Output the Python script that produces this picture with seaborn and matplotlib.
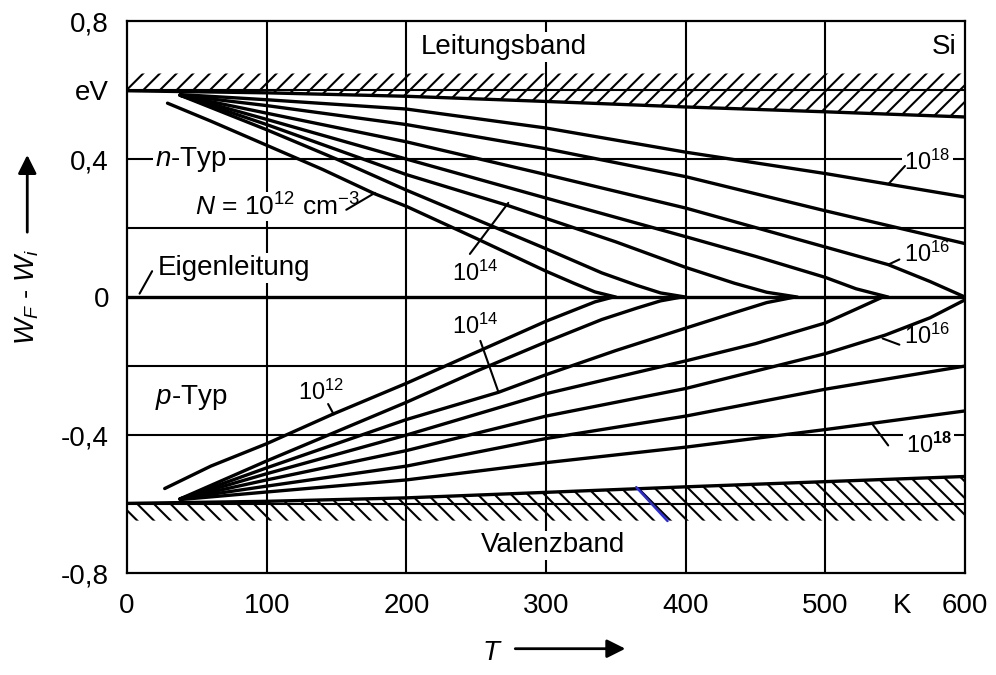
import numpy as np
import pandas as pd
import matplotlib
matplotlib.use("Agg")
import matplotlib.pyplot as plt
import matplotlib.transforms as mtransforms
import seaborn as sns

# ---------------- data ----------------
T_band = [0, 100, 200, 300, 400, 500, 600]
W_cond = [0.598, 0.592, 0.582, 0.567, 0.551, 0.537, 0.522]
W_val = [-0.598, -0.592, -0.582, -0.566, -0.550, -0.535, -0.520]

# n-type curves, N = 1e12 ... 1e18 cm^-3
T_n12 = [29, 60, 100, 140, 177, 200, 250, 300, 320, 335, 350]
W_n12 = [0.562, 0.51, 0.44, 0.37, 0.30, 0.263, 0.17, 0.075, 0.04, 0.015, 0.0]
T_n13 = [38, 100, 150, 200, 250, 300, 340, 365, 382, 400]
W_n13 = [0.585, 0.485, 0.40, 0.31, 0.225, 0.14, 0.07, 0.034, 0.012, 0.0]
T_n14 = [38, 100, 200, 273, 300, 350, 400, 435, 458, 480]
W_n14 = [0.585, 0.50, 0.355, 0.265, 0.228, 0.16, 0.086, 0.04, 0.014, 0.0]
T_n15 = [38, 100, 200, 300, 400, 450, 500, 522, 545]
W_n15 = [0.585, 0.515, 0.40, 0.287, 0.175, 0.118, 0.057, 0.024, 0.0]
T_n16 = [38, 100, 200, 300, 400, 500, 545, 575, 600]
W_n16 = [0.585, 0.533, 0.45, 0.355, 0.258, 0.145, 0.094, 0.045, 0.0]
T_n17 = [38, 100, 200, 300, 400, 500, 600]
W_n17 = [0.585, 0.555, 0.50, 0.43, 0.349, 0.25, 0.155]
T_n18 = [38, 100, 200, 300, 400, 500, 600]
W_n18 = [0.587, 0.572, 0.545, 0.49, 0.42, 0.358, 0.29]

# p-type curves
T_p12 = [27, 60, 100, 147, 200, 250, 300, 320, 335, 348]
W_p12 = [-0.555, -0.49, -0.425, -0.34, -0.25, -0.16, -0.07, -0.038, -0.014, 0.0]
T_p13 = [38, 100, 150, 200, 250, 300, 340, 365, 382, 397]
W_p13 = [-0.585, -0.475, -0.39, -0.305, -0.215, -0.13, -0.065, -0.032, -0.011, 0.0]
T_p14 = [38, 100, 200, 266, 300, 350, 400, 435, 458, 478]
W_p14 = [-0.585, -0.495, -0.355, -0.276, -0.225, -0.155, -0.09, -0.045, -0.016, 0.0]
T_p15 = [38, 100, 200, 300, 400, 450, 500, 522, 541]
W_p15 = [-0.585, -0.512, -0.40, -0.28, -0.185, -0.135, -0.075, -0.035, 0.0]
T_p16 = [38, 100, 200, 300, 400, 500, 543, 575, 600]
W_p16 = [-0.585, -0.53, -0.445, -0.345, -0.265, -0.164, -0.11, -0.06, -0.008]
T_p17 = [38, 100, 200, 300, 400, 500, 600]
W_p17 = [-0.585, -0.548, -0.49, -0.41, -0.345, -0.267, -0.20]
T_p18 = [38, 100, 200, 300, 400, 500, 600]
W_p18 = [-0.587, -0.565, -0.53, -0.48, -0.435, -0.384, -0.33]

T_intr = [0, 600]
W_intr = [0.0, 0.0]

x_ticks = [0, 100, 200, 300, 400, 500, 555, 600]
x_ticklabels = ["0", "100", "200", "300", "400", "500", "K", "600"]
y_ticks = [0.8, 0.6, 0.4, 0.0, -0.4, -0.8]
y_ticklabels = ["0,8", "eV", "0,4", "0", "-0,4", "-0,8"]

# ---------------- style ----------------
sns.set_theme(style="white")
plt.rcParams["font.family"] = ["Liberation Sans", "DejaVu Sans"]
plt.rcParams["mathtext.fontset"] = "custom"
plt.rcParams["mathtext.rm"] = "Liberation Sans"
plt.rcParams["mathtext.it"] = "Liberation Sans:italic"
plt.rcParams["mathtext.bf"] = "Liberation Sans:bold"
plt.rcParams["hatch.linewidth"] = 1.5
plt.rcParams["text.color"] = "black"
plt.rcParams["axes.labelcolor"] = "black"
plt.rcParams["xtick.color"] = "black"
plt.rcParams["ytick.color"] = "black"

fig = plt.figure(figsize=(9.96, 6.75), dpi=100)
ax = fig.add_axes([0.1275, 0.151, 0.8414, 0.8178])
ax.set_xlim(0, 600)
ax.set_ylim(-0.8, 0.8)

# grid
for yv in [0.6, 0.4, 0.2, -0.2, -0.4, -0.6]:
    ax.axhline(yv, color="black", lw=1.5, zorder=1)
for xv in [100, 200, 300, 400, 500]:
    ax.axvline(xv, color="black", lw=1.5, zorder=1)

# hatched bands
ax.fill_between(T_band, W_cond, 0.648, facecolor="none", edgecolor="black",
                hatch="//", linewidth=0, zorder=1.2)
ax.fill_between(T_band, W_val, -0.648, facecolor="none", edgecolor="black",
                hatch="\\\\", linewidth=0, zorder=1.2)

# curves via seaborn
curves = {
    "n12": (T_n12, W_n12), "n13": (T_n13, W_n13), "n14": (T_n14, W_n14),
    "n15": (T_n15, W_n15), "n16": (T_n16, W_n16), "n17": (T_n17, W_n17),
    "n18": (T_n18, W_n18),
    "p12": (T_p12, W_p12), "p13": (T_p13, W_p13), "p14": (T_p14, W_p14),
    "p15": (T_p15, W_p15), "p16": (T_p16, W_p16), "p17": (T_p17, W_p17),
    "p18": (T_p18, W_p18),
    "cond": (T_band, W_cond), "val": (T_band, W_val),
    "intr": (T_intr, W_intr),
}
rows = []
for name, (ts, ws) in curves.items():
    for i, (t, w) in enumerate(zip(ts, ws)):
        rows.append({"curve": name, "T": t, "W": w, "order": i})
df = pd.DataFrame(rows)
sns.lineplot(data=df, x="T", y="W", units="curve", estimator=None, sort=False,
             color="black", lw=2.4, ax=ax, zorder=3, legend=False)

# leader lines
leaders = [
    ((9, 18), (0.01, 0.075)),
    ((157, 177.5), (0.253, 0.302)),
    ((245.5, 273), (0.125, 0.273)),
    ((545, 557), (0.327, 0.38)),
    ((545, 553), (0.094, 0.109)),
    ((541, 553), (-0.12, -0.138)),
    ((534, 545), (-0.37, -0.43)),
    ((253, 266), (-0.127, -0.276)),
    ((144, 148), (-0.31, -0.34)),
]
for xs, ys in leaders:
    ax.plot(xs, ys, color="black", lw=1.5, zorder=3)

# small blue stroke in the lower hatch
ax.plot([364.6, 387], [-0.551, -0.649], color="#2b2bd6", lw=1.8, zorder=3)

wb = dict(facecolor="white", edgecolor="none", pad=1.5)
fs = 20
ax.text(270, 0.724, "Leitungsband", fontsize=fs, ha="center", va="center", bbox=wb, zorder=2)
ax.text(585, 0.724, "Si", fontsize=fs, ha="center", va="center", zorder=2)
ax.text(305, -0.72, "Valenzband", fontsize=fs, ha="center", va="center", bbox=wb, zorder=2)
ax.text(20, 0.40, r"$n$-Typ", fontsize=fs, ha="left", va="center", bbox=wb, zorder=2)
ax.text(49, 0.262, r"$N$ = 10$^{12}$ cm$^{-3}$", fontsize=19, ha="left", va="center",
        bbox=dict(facecolor="white", edgecolor="none", pad=0.5), zorder=2)
ax.text(22, 0.084, "Eigenleitung", fontsize=fs, ha="left", va="center", bbox=wb, zorder=2)
ax.text(20, -0.29, r"$p$-Typ", fontsize=fs, ha="left", va="center", zorder=2)

fs2 = 17
ax.text(249, 0.07, r"10$^{14}$", fontsize=fs2, ha="center", va="center", zorder=2)
ax.text(573, 0.39, r"10$^{18}$", fontsize=fs2, ha="center", va="center", bbox=wb, zorder=2)
ax.text(573, 0.123, r"10$^{16}$", fontsize=fs2, ha="center", va="center", zorder=2)
ax.text(249, -0.085, r"10$^{14}$", fontsize=fs2, ha="center", va="center", zorder=2)
ax.text(139, -0.275, r"10$^{12}$", fontsize=fs2, ha="center", va="center", zorder=2)
ax.text(573, -0.113, r"10$^{16}$", fontsize=fs2, ha="center", va="center", zorder=2)
ax.text(574, -0.43, r"10$^{\mathbf{18}}$", fontsize=fs2, ha="center", va="center", bbox=wb, zorder=2)

# ticks
ax.set_xticks(x_ticks)
ax.set_xticklabels(x_ticklabels)
ax.set_yticks(y_ticks)
ax.set_yticklabels(y_ticklabels)
ax.tick_params(axis="both", length=0, labelsize=fs, colors="black")
ax.tick_params(axis="y", pad=13)
ax.tick_params(axis="x", pad=14)
ax.set_xlabel("")
ax.set_ylabel("")
for sp in ax.spines.values():
    sp.set_color("black")
    sp.set_linewidth(1.6)
    sp.set_visible(True)

# axis labels with arrows
trans_y = mtransforms.blended_transform_factory(ax.transAxes, ax.transData)
ax.text(-0.119, 0.0, r"$W_F$ - $W_i$", fontsize=fs, rotation=90, ha="center",
        va="center", transform=trans_y, clip_on=False)
ax.annotate("", xy=(-0.119, 0.42), xytext=(-0.119, 0.18),
            xycoords=trans_y, textcoords=trans_y,
            arrowprops=dict(arrowstyle="-|>", color="black", lw=2, mutation_scale=28))
ax.text(0.436, -0.145, r"$T$", fontsize=fs, ha="center", va="center",
        transform=ax.transAxes, clip_on=False)
ax.annotate("", xy=(0.598, -0.137), xytext=(0.46, -0.137),
            xycoords="axes fraction", textcoords="axes fraction",
            arrowprops=dict(arrowstyle="-|>", color="black", lw=2, mutation_scale=28))

fig.savefig("out.png", dpi=100)
